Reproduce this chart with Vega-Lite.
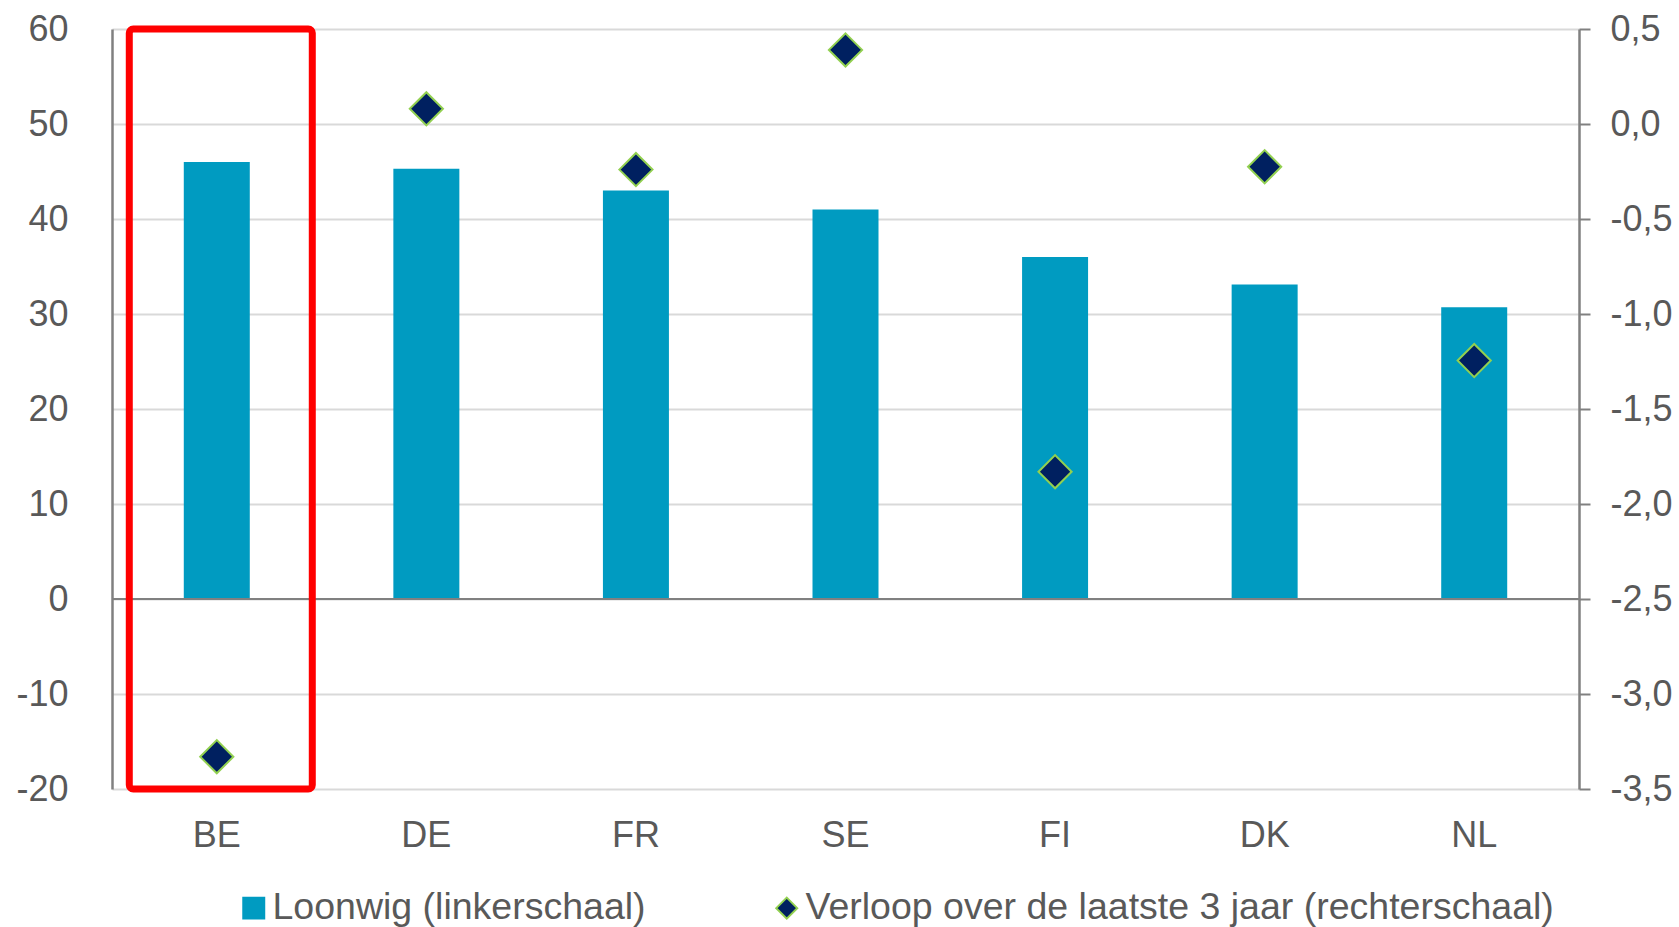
{
  "$schema": "https://vega.github.io/schema/vega-lite/v6.json",
  "width": 1467,
  "height": 760,
  "autosize": {"type": "none"},
  "padding": {"left": 112, "top": 29, "right": 100, "bottom": 138},
  "background": "white",
  "config": {
    "view": {"stroke": null},
    "font": "Liberation Sans",
    "axis": {"labelFont": "Liberation Sans", "labelFontSize": 36, "labelColor": "#595959", "titleFont": "Liberation Sans"},
    "legend": {"labelFont": "Liberation Sans"}
  },
  "data": {
    "values": [
      {"land": "BE", "loonwig": 46.0, "verloop": -3.33},
      {"land": "DE", "loonwig": 45.3, "verloop": 0.08},
      {"land": "FR", "loonwig": 43.0, "verloop": -0.24},
      {"land": "SE", "loonwig": 41.0, "verloop": 0.39},
      {"land": "FI", "loonwig": 36.0, "verloop": -1.83},
      {"land": "DK", "loonwig": 33.1, "verloop": -0.225},
      {"land": "NL", "loonwig": 30.7, "verloop": -1.245}
    ]
  },
  "encoding": {
    "x": {
      "field": "land",
      "type": "nominal",
      "sort": null,
      "scale": {"paddingInner": 0, "paddingOuter": 0},
      "axis": {"title": null, "labelAngle": 0, "domain": false, "ticks": false, "labelPadding": 29, "grid": false}
    }
  },
  "layer": [
    {
      "layer": [
        {
          "mark": {"type": "bar", "color": "#009BC1", "size": 66},
          "encoding": {
            "y": {
              "field": "loonwig",
              "type": "quantitative",
              "scale": {"domain": [-20, 60], "nice": false, "zero": false},
              "axis": {
                "title": null,
                "orient": "left",
                "values": [-20, -10, 0, 10, 20, 30, 40, 50, 60],
                "labelExpr": "replace(datum.label, '\u2212', '-')",
                "ticks": false,
                "tickSize": 0,
                "labelPadding": 44,
                "domain": true,
                "domainColor": "#808080",
                "domainWidth": 2.5,
                "grid": true,
                "gridColor": "#D9D9D9",
                "gridWidth": 2
              }
            }
          }
        },
        {
          "mark": {"type": "rule", "color": "#808080", "strokeWidth": 2},
          "encoding": {"y": {"datum": 0}, "x": {"value": 0}, "x2": {"value": 1467}}
        },
        {
          "transform": [{"filter": "datum.land === 'BE'"}],
          "mark": {"type": "bar", "fillOpacity": 0, "fill": "white", "stroke": "#FF0000", "strokeWidth": 7, "width": 183, "xOffset": 4, "cornerRadius": 4, "strokeJoin": "round"},
          "encoding": {"y": {"datum": 60}, "y2": {"datum": -20}}
        }
      ]
    },
    {
      "mark": {"type": "point", "filled": true, "shape": "diamond", "size": 1100, "strokeWidth": 2, "opacity": 1, "fillOpacity": 1},
      "encoding": {
        "y": {
          "field": "verloop",
          "type": "quantitative",
          "scale": {"domain": [-3.5, 0.5], "nice": false, "zero": false},
          "axis": {
            "title": null,
            "orient": "right",
            "values": [-3.5, -3, -2.5, -2, -1.5, -1, -0.5, 0, 0.5],
            "labelExpr": "replace(replace(format(datum.value, '.1f'), '.', ','), '\u2212', '-')",
            "ticks": true,
            "tickSize": 11,
            "tickColor": "#808080",
            "tickWidth": 2,
            "labelPadding": 20,
            "labelAlign": "left",
            "domain": true,
            "domainColor": "#808080",
            "domainWidth": 2.5,
            "grid": false
          }
        },
        "color": {
          "datum": "Verloop over de laatste 3 jaar (rechterschaal)",
          "type": "nominal",
          "scale": {"domain": ["Loonwig (linkerschaal)", "Verloop over de laatste 3 jaar (rechterschaal)"], "range": ["#009BC1", "#002060"]},
          "legend": {
            "title": null,
            "orient": "none",
            "direction": "horizontal",
            "legendX": 123,
            "legendY": 860,
            "padding": 0,
            "labelFontSize": 37.5,
            "labelColor": "#595959",
            "labelLimit": 1000,
            "symbolSize": 440,
            "symbolStrokeWidth": 2,
            "labelOffset": 0,
            "columnPadding": 122
          }
        },
        "shape": {
          "datum": "Verloop over de laatste 3 jaar (rechterschaal)",
          "type": "nominal",
          "scale": {"domain": ["Loonwig (linkerschaal)", "Verloop over de laatste 3 jaar (rechterschaal)"], "range": ["square", "diamond"]},
          "legend": {"title": null}
        },
        "stroke": {
          "datum": "Verloop over de laatste 3 jaar (rechterschaal)",
          "type": "nominal",
          "scale": {"domain": ["Loonwig (linkerschaal)", "Verloop over de laatste 3 jaar (rechterschaal)"], "range": ["#009BC1", "#92D050"]},
          "legend": {"title": null}
        }
      }
    }
  ],
  "resolve": {"scale": {"y": "independent"}}
}
